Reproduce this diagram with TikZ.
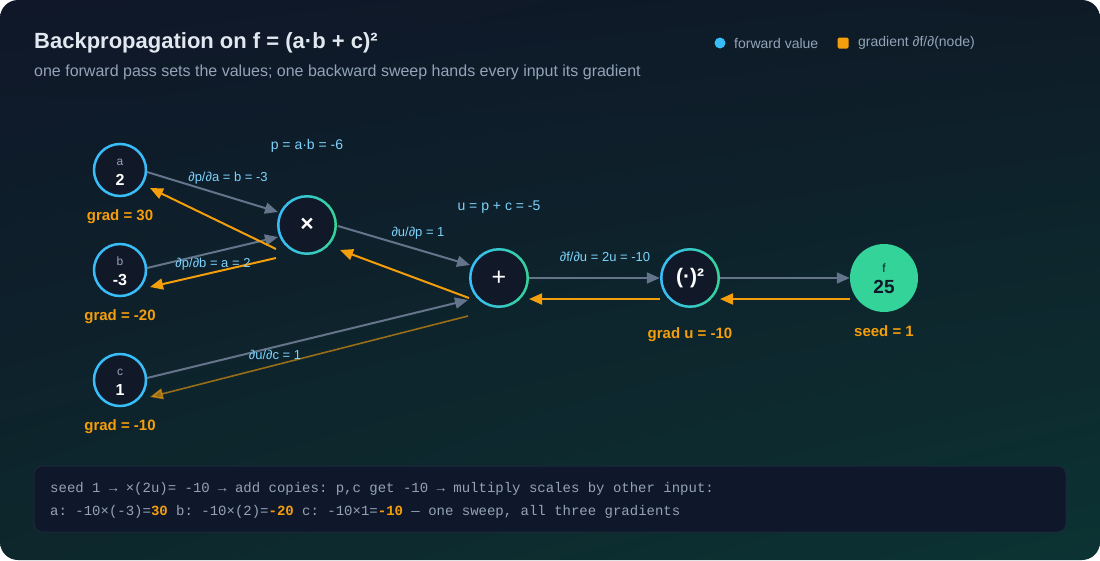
\documentclass[tikz,border=0pt]{standalone}
\usepackage{fontspec}
\setmainfont{Liberation Sans}
\setmonofont{Liberation Mono}
\usetikzlibrary{arrows.meta,positioning,calc,shadings}

\definecolor{bgUL}{HTML}{0F1729}
\definecolor{bgUR}{HTML}{0E1B27}
\definecolor{bgLL}{HTML}{0D272C}
\definecolor{bgLR}{HTML}{0C3333}
\definecolor{nodebg}{HTML}{111827}
\definecolor{fwdblue}{HTML}{38BDF8}
\definecolor{outgreen}{HTML}{34D399}
\definecolor{gradorange}{HTML}{F59E0B}
\definecolor{edgegray}{HTML}{64748B}
\definecolor{lblblue}{HTML}{7DD3FC}
\definecolor{namegray}{HTML}{94A3B8}
\definecolor{titlecol}{HTML}{E2E8F0}
\definecolor{notebg}{HTML}{0F172A}
\definecolor{noteedge}{HTML}{1E293B}

% ring whose colour runs from blue (left) to green (right)
\newcommand{\gradring}[2]{%
  \foreach \t in {0,10,...,350}{%
    \pgfmathtruncatemacro{\mix}{50+50*cos(\t+5)}%
    \draw[outgreen!\mix!fwdblue, line width=2.5pt]
      ($(#1)+(\t:#2)$) arc[start angle=\t, end angle=\t+11, radius=#2];
  }}
% small name over the value inside an input node
\newcommand{\inname}[1]{\rule{0pt}{11pt}{\fontsize{12}{12}\selectfont\color{namegray}#1}}

\begin{document}
\begin{tikzpicture}[x=1pt,y=-1pt,
  innode/.style={circle,minimum size=52pt,inner sep=0pt,fill=nodebg,draw=fwdblue,line width=2.5pt,align=center,text=white,font=\fontsize{16}{20}\selectfont},
  opnode/.style={circle,minimum size=60pt,inner sep=0pt,fill=nodebg,text=white,font=\bfseries\fontsize{21}{21}\selectfont},
  outnode/.style={circle,minimum size=68pt,inner sep=0pt,fill=outgreen,align=center,text=nodebg,font=\fontsize{19}{21}\selectfont},
  edge/.style={draw=edgegray,line width=2pt,-{Triangle[length=13pt,width=11pt]}},
  back/.style={draw=gradorange,line width=2pt,-{Triangle[length=13pt,width=11pt]}},
  dlabel/.style={text=lblblue,font=\fontsize{13}{13}\selectfont},
  grad/.style={text=gradorange,font=\bfseries\fontsize{15}{15}\selectfont},
  legend/.style={text=namegray,font=\fontsize{14}{14}\selectfont,anchor=west,inner sep=0pt}]

\useasboundingbox (0,0) rectangle (1100,560);
\fill[white] (0,0) rectangle (1100,560);
\shade[rounded corners=18pt,upper left=bgUL,upper right=bgUR,lower left=bgLL,lower right=bgLR]
  (0,0) rectangle (1100,560);

% heading and legend
\node (title) [anchor=west,inner sep=0pt,text=titlecol,font=\bfseries\fontsize{22}{22}\selectfont] at (34,43) {Backpropagation on f = (a·b + c)²};
\node (subtitle) [anchor=west,inner sep=0pt,text=namegray,font=\fontsize{16}{16}\selectfont] at (34,72) {one forward pass sets the values; one backward sweep hands every input its gradient};
\node (lgdot) [circle,fill=fwdblue,minimum size=11pt,inner sep=0pt] at (720,43) {};
\node (lgfwd) [legend] at (734,43) {forward value};
\node (lgsq) [rectangle,rounded corners=1.5pt,fill=gradorange,minimum size=11pt,inner sep=0pt] at (843,43) {};
\node (lggrad) [legend] at (858,43) {gradient ∂f/∂(node)};

% graph nodes
\node (a) [innode] at (120,170) {\inname{a}\\{\bfseries 2}};
\node (b) [innode] at (120,270) {\inname{b}\\{\bfseries -3}};
\node (c) [innode] at (120,380) {\inname{c}\\{\bfseries 1}};
\node (mul) [opnode,font=\bfseries\fontsize{23}{23}\selectfont] at (307,225) {×};
\node (add) [opnode,font=\fontsize{25}{25}\selectfont] at (499,278) {+};
\node (sq) [opnode] at (690,278) {(·)²};
\node (f) [outnode] at (884,278) {\rule{0pt}{10pt}{\fontsize{12}{12}\selectfont f}\\{\bfseries 25}};
\gradring{mul}{28.75pt}
\gradring{add}{28.75pt}
\gradring{sq}{28.75pt}

% forward pass
\draw [edge] ($(a)+(27,2)$) -- ($(mul)+(-29,-13)$);
\draw [edge] ($(b)+(27,-2)$) -- ($(mul)+(-29,12)$);
\draw [edge] ($(mul)+(31,1)$) -- ($(add)+(-29,-13)$);
\draw [edge] ($(c)+(27,-2)$) -- ($(add)+(-31,22)$);
\draw [edge] (add) -- (sq);
\draw [edge] (sq) -- (f);

% backward sweep
\draw [back] ($(mul)+(-31,24)$) -- ($(a)+(30,18)$);
\draw [back] ($(mul)+(-31,33)$) -- ($(b)+(30,17)$);
\draw [back] ($(add)+(-30,20)$) -- ($(mul)+(33,25)$);
\draw [back,line width=1.6pt,opacity=0.6] ($(add)+(-31,38)$) -- ($(c)+(30,17)$);
\draw [back] ($(sq)+(-30,21)$) -- ($(add)+(30,21)$);
\draw [back] ($(f)+(-34,21)$) -- ($(sq)+(30,21)$);

% values and local derivatives
\node (lp) [dlabel,font=\fontsize{14}{14}\selectfont] at (307,146) {p = a·b = -6};
\node (lu) [dlabel,font=\fontsize{14}{14}\selectfont] at (499,207) {u = p + c = -5};
\node (dpa) [dlabel] at (228,178) {∂p/∂a = b = -3};
\node (dpb) [dlabel] at (213,264) {∂p/∂b = a = 2};
\node (dup) [dlabel] at (418,233) {∂u/∂p = 1};
\node (dfu) [dlabel] at (605,257) {∂f/∂u = 2u = -10};
\node (duc) [dlabel] at (275,355) {∂u/∂c = 1};

% gradients
\node (ga) [grad] at (120,217) {grad = 30};
\node (gb) [grad] at (120,317) {grad = -20};
\node (gc) [grad] at (120,427) {grad = -10};
\node (gu) [grad] at (690,335) {grad u = -10};
\node (gf) [grad] at (884,331) {seed = 1};

% summary box
\draw [rounded corners=8pt,fill=notebg,draw=noteedge,line width=1pt] (34,466) rectangle (1066,532);
\node (note1) [anchor=west,inner sep=0pt,text=namegray,font=\ttfamily\fontsize{14}{14}\selectfont] at (50,489)
  {seed 1 → ×(2u)= -10 → add copies: p,c get -10 → multiply scales by other input:};
\node (note2) [anchor=west,inner sep=0pt,text=namegray,font=\ttfamily\fontsize{14}{14}\selectfont] at (50,512)
  {a: -10×(-3)=\textcolor{gradorange}{\textbf{30}} b: -10×(2)=\textcolor{gradorange}{\textbf{-20}} c: -10×1=\textcolor{gradorange}{\textbf{-10}} — one sweep, all three gradients};
\end{tikzpicture}
\end{document}
